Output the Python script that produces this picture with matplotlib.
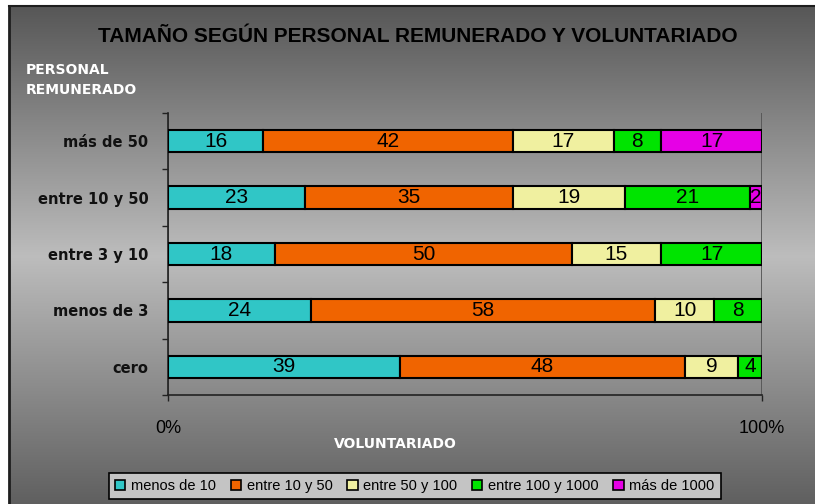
import numpy as np
import matplotlib.pyplot as plt
from matplotlib.patches import Patch

# Personal remunerado (y) vs voluntariado (stacked shares, %)
categories = ['cero', 'menos de 3', 'entre 3 y 10', 'entre 10 y 50', 'más de 50']
series = ['menos de 10', 'entre 10 y 50', 'entre 50 y 100',
          'entre 100 y 1000', 'más de 1000']
menos_10 = [39, 24, 18, 23, 16]
entre_10_50 = [48, 58, 50, 35, 42]
entre_50_100 = [9, 10, 15, 19, 17]
entre_100_1000 = [4, 8, 17, 21, 8]
mas_1000 = [0, 0, 0, 2, 17]
values = [menos_10, entre_10_50, entre_50_100, entre_100_1000, mas_1000]

title = 'TAMAÑO SEGÚN PERSONAL REMUNERADO Y VOLUNTARIADO'
colors = ['#30c6c6', '#f06400', '#f0f0a0', '#00e400', '#e600e6']
wide_font = ['DejaVu Sans']

plt.rcParams['font.family'] = ['Liberation Sans', 'DejaVu Sans']

W, H = 815, 504
fig = plt.figure(figsize=(W / 100, H / 100), dpi=100)
fig.patch.set_facecolor('white')


def px_axes(x0, y0, x1, y1, **kw):
    return fig.add_axes([x0 / W, 1 - y1 / H, (x1 - x0) / W, (y1 - y0) / H], **kw)


# chart area with vertical grey gradient
bg = px_axes(9, 6, W + 2, H + 2, zorder=0)
rows = np.arange(6, H)
shade = np.interp(rows, [6, 255, H], [0.34, 0.74, 0.37])
img = np.repeat(shade[:, None], 2, axis=1)[:, :, None] * np.ones(3)
bg.imshow(img, aspect='auto', extent=[0, 1, 0, 1])
bg.set_xticks([])
bg.set_yticks([])
for side in ['right', 'bottom']:
    bg.spines[side].set_visible(False)
bg.spines['left'].set_color('#1e1e1e')
bg.spines['left'].set_linewidth(2)
bg.spines['top'].set_color('#1e1e1e')
bg.spines['top'].set_linewidth(1.5)

# plot area
ax = px_axes(168, 113, 762, 395, zorder=2)
ax.set_facecolor('none')
ypos = np.arange(len(categories))
left = np.zeros(len(categories))
for vals, col in zip(values, colors):
    vals = np.array(vals, dtype=float)
    ax.barh(ypos, vals, left=left, height=0.4, color=col,
            edgecolor='black', linewidth=1.5, zorder=3)
    for y, l, v in zip(ypos, left, vals):
        if v > 0:
            ax.text(l + v / 2, y, f'{int(v)}', ha='center', va='center',
                    fontsize=15, color='black', zorder=4)
    left += vals

ax.set_xlim(0, 100)
ax.set_ylim(-0.5, len(categories) - 0.5)
ax.set_xticks([0, 100])
ax.set_xticklabels(['0%', '100%'], fontsize=13)
ax.tick_params(axis='x', direction='out', length=4, width=1, pad=14,
               color='#222222')
ax.xaxis.grid(True, color='#555555', linewidth=1.3)
ax.set_axisbelow(True)

ax.set_yticks(ypos)
ax.set_yticklabels(categories, fontsize=10.5, fontweight='bold',
                   color='#111111', family=wide_font)
ax.tick_params(axis='y', which='major', length=0, pad=14)
ax.set_yticks(np.arange(-0.5, len(categories)), minor=True)
ax.tick_params(axis='y', which='minor', direction='out', length=4.5,
               width=1, color='#222222')
for side in ['top', 'right']:
    ax.spines[side].set_visible(False)
for side in ['left', 'bottom']:
    ax.spines[side].set_color('#222222')
    ax.spines[side].set_linewidth(1.2)

# titles
fig.text(418 / W, 1 - 36 / H, title, ha='center', va='center',
         fontsize=15, fontweight='bold', color='black')
fig.text(26 / W, 1 - 70 / H, 'PERSONAL', ha='left', va='center',
         fontsize=10, fontweight='bold', color='white', family=wide_font)
fig.text(26 / W, 1 - 90 / H, 'REMUNERADO', ha='left', va='center',
         fontsize=10, fontweight='bold', color='white', family=wide_font)
fig.text(395 / W, 1 - 444 / H, 'VOLUNTARIADO', ha='center', va='center',
         fontsize=10, fontweight='bold', color='white', family=wide_font)

# legend
handles = [Patch(facecolor=c, edgecolor='black', linewidth=1.2) for c in colors]
leg = fig.legend(handles, series, loc='center', ncol=5,
                 bbox_to_anchor=(415 / W, 1 - 486 / H), fontsize=10.5,
                 handlelength=0.7, handleheight=0.7, handletextpad=0.4,
                 columnspacing=1.0, borderpad=0.4, fancybox=False,
                 framealpha=1)
leg.get_frame().set_facecolor('#c4c4c4')
leg.get_frame().set_edgecolor('black')
leg.get_frame().set_linewidth(1.2)

fig.savefig('out.png', dpi=100)
plt.close()
